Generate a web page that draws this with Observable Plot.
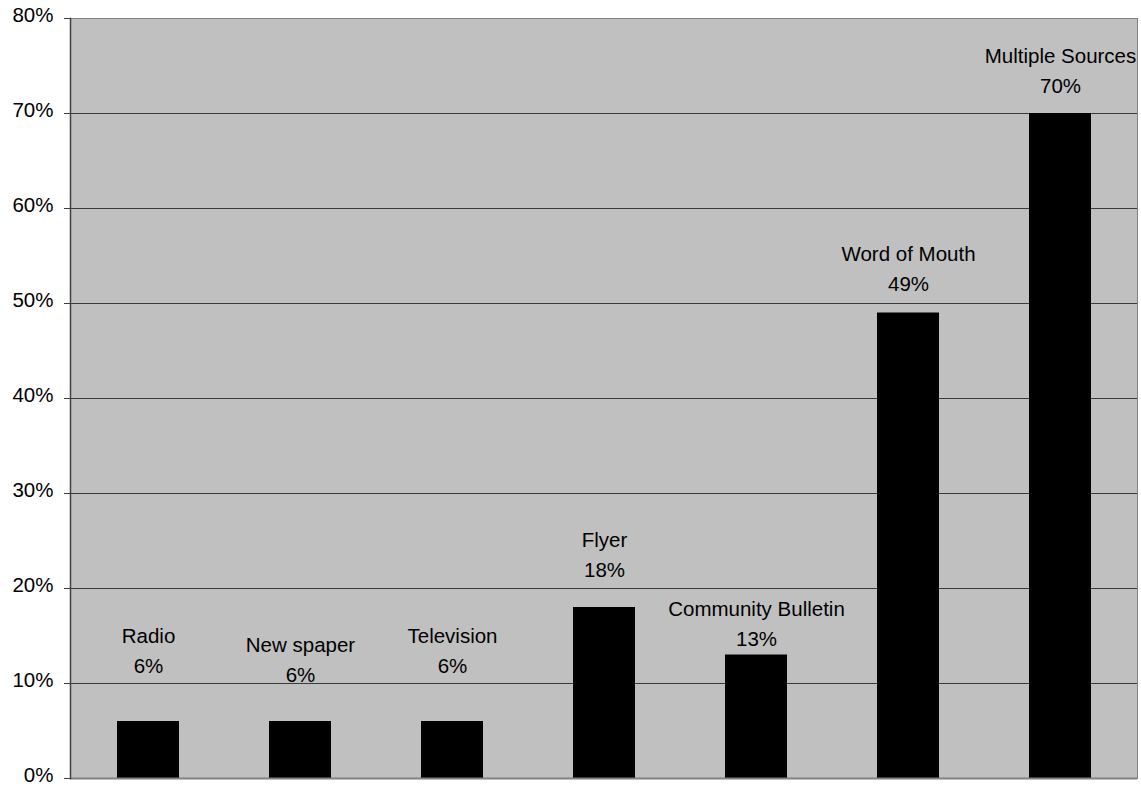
<!DOCTYPE html>
<html>
<head>
<meta charset="utf-8">
<script src="https://cdn.jsdelivr.net/npm/d3@7"></script>
<script src="https://cdn.jsdelivr.net/npm/@observablehq/plot@0.6"></script>
<style>
  html, body { margin: 0; padding: 0; background: #ffffff; }
  #chart svg { display: block; }
</style>
</head>
<body>
<div id="chart"></div>
<script>
const categories = ["Radio", "New spaper", "Television", "Flyer", "Community Bulletin", "Word of Mouth", "Multiple Sources"];
const values = [6, 6, 6, 18, 13, 49, 70];
// where each two-line data label sits (baseline of its % line), in percentage-point units
const labelAt = [11.1, 10.2, 11.1, 21.2, 14.0, 51.3, 72.2];
const yTicks = [0, 10, 20, 30, 40, 50, 60, 70, 80];
const gridTicks = [10, 20, 30, 40, 50, 60, 70];

const data = categories.map((c, i) => ({category: c, value: values[i], at: labelAt[i]}));
const FS = 20.5;
const font = "'Liberation Sans', Arial, sans-serif";

const chart = Plot.plot({
  width: 1141,
  height: 786,
  marginLeft: 70,
  marginRight: 4,
  marginTop: 18,
  marginBottom: 8,
  style: {fontFamily: font, fontSize: FS + "px", color: "#000", background: "#fff"},
  x: {type: "band", domain: categories, paddingInner: 0.593, paddingOuter: 0.2965, axis: null},
  y: {domain: [0, 80]},
  marks: [
    Plot.frame({fill: "#c0c0c0", stroke: "#808080"}),
    Plot.ruleY(gridTicks, {stroke: "#3a3a3a", strokeWidth: 1}),
    Plot.barY(data, {x: "category", y: "value", fill: "#000"}),
    Plot.ruleY([0], {stroke: "#808080", strokeWidth: 2}),
    Plot.frame({anchor: "left", stroke: "#404040", strokeWidth: 1.5}),
    Plot.axisY({ticks: yTicks, tickFormat: () => "", tickSize: 6, stroke: "#404040", label: null}),
    Plot.axisY({ticks: yTicks, tickFormat: d => d + "%", tickSize: 0, tickPadding: 17, fontSize: FS, fill: "#000", label: null, dy: -3.5}),
    Plot.text(data, {x: "category", y: "at", text: d => d.value + "%", fontSize: FS, fill: "#000", dy: -0.32 * FS}),
    Plot.text(data, {x: "category", y: "at", text: "category", fontSize: FS, fill: "#000", dy: -0.32 * FS - 30})
  ]
});
document.getElementById("chart").appendChild(chart);
</script>
</body>
</html>
